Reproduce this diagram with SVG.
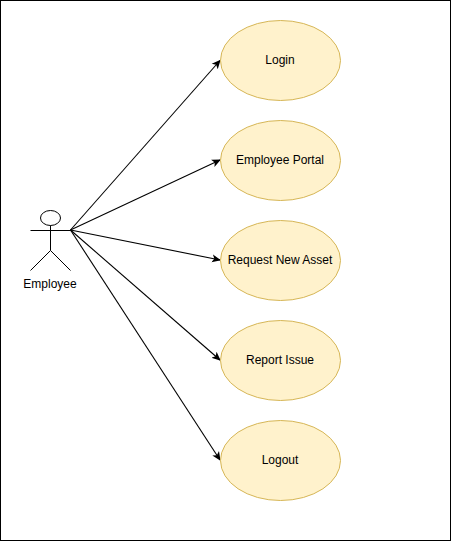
<svg xmlns="http://www.w3.org/2000/svg" width="451" height="541" viewBox="0 0 451 541">
<style>
.uc{fill:#fff2cc;stroke:#d6b656;stroke-width:1}
.t{font-family:"Liberation Sans",Arial,sans-serif;font-size:12px;fill:#000;text-anchor:middle}
.a{fill:#fff;stroke:#000;stroke-width:1}
.s{fill:none;stroke:#000;stroke-width:1}
.c{fill:none;stroke:#000;stroke-width:1.1;marker-end:url(#arr)}
</style>
<defs>
<marker id="arr" markerUnits="userSpaceOnUse" markerWidth="10" markerHeight="10" refX="8" refY="4" orient="auto" viewBox="0 0 10 8">
<path d="M0 0L9 4L0 8L2.2 4Z" fill="#000"/>
</marker>
</defs>
<rect x="0.5" y="0.5" width="450" height="540" fill="#fff" stroke="#000" stroke-width="1"/>
<g id="connectors">
<path class="c" d="M70.5 230L220 60.5"/>
<path class="c" d="M70.5 230L220 160"/>
<path class="c" d="M70.5 230L220 260"/>
<path class="c" d="M70.5 230L220 360"/>
<path class="c" d="M70.5 230L220 460"/>
</g>
<g id="actor-employee">
<ellipse class="a" cx="50.5" cy="218" rx="10" ry="7.5"/>
<path class="s" d="M50.5 225.5V250.5M30.5 230.500H70.5M30.5 270.500L50.5 250.500L70.5 270.500"/>
<text class="t" x="50" y="288">Employee</text>
</g>
<g id="uc-login"><ellipse class="uc" cx="280.5" cy="60.5" rx="60" ry="40"/><text class="t" x="280" y="64">Login</text></g>
<g id="uc-portal"><ellipse class="uc" cx="280.5" cy="160.5" rx="60" ry="40"/><text class="t" x="280" y="164">Employee Portal</text></g>
<g id="uc-request"><ellipse class="uc" cx="280.5" cy="260.5" rx="60" ry="40"/><text class="t" x="280" y="264">Request New Asset</text></g>
<g id="uc-report"><ellipse class="uc" cx="280.5" cy="360.5" rx="60" ry="40"/><text class="t" x="280" y="364">Report Issue</text></g>
<g id="uc-logout"><ellipse class="uc" cx="280.5" cy="460.5" rx="60" ry="40"/><text class="t" x="280" y="464">Logout</text></g>
</svg>
